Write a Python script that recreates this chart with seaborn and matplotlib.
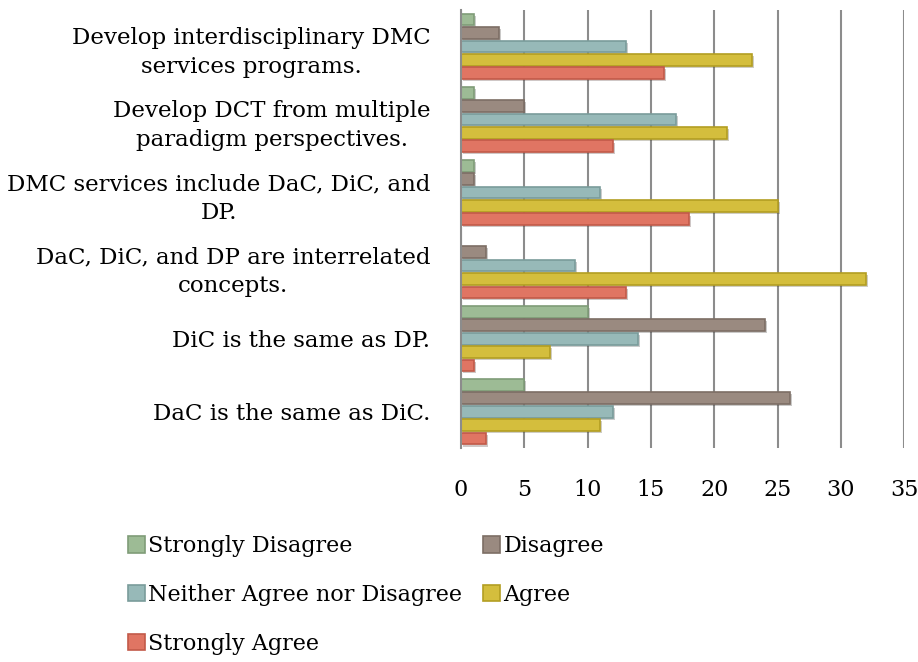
import numpy as np
import pandas as pd
import matplotlib
matplotlib.use("Agg")
import matplotlib.pyplot as plt
import matplotlib.patheffects as pe
import seaborn as sns

# statements, top to bottom
statements = [
    "Develop interdisciplinary DMC\nservices programs.",
    "Develop DCT from multiple\nparadigm perspectives.",
    "DMC services include DaC, DiC, and\nDP.",
    "DaC, DiC, and DP are interrelated\nconcepts.",
    "DiC is the same as DP.",
    "DaC is the same as DiC.",
]
responses = ["Strongly Disagree", "Disagree", "Neither Agree nor Disagree",
             "Agree", "Strongly Agree"]

strongly_disagree = [1, 1, 1, 0, 10, 5]
disagree = [3, 5, 1, 2, 24, 26]
neither = [13, 17, 11, 9, 14, 12]
agree = [23, 21, 25, 32, 7, 11]
strongly_agree = [16, 12, 18, 13, 1, 2]

colors = ["#9dbb95", "#9a8a80", "#97b9b8", "#d4be3d", "#e07563"]
edges = ["#7f9c78", "#7d6e65", "#7a9c9b", "#b39e22", "#c25a49"]

series = [strongly_disagree, disagree, neither, agree, strongly_agree]
rows = []
for resp, vals in zip(responses, series):
    for st, v in zip(statements, vals):
        rows.append({"Statement": st, "Response": resp, "Count": v})
df = pd.DataFrame(rows)

sns.set_style("white")
plt.rcParams['font.family'] = ['DejaVu Serif']
plt.rcParams['text.color'] = 'black'

fig = plt.figure(figsize=(9.18, 6.62), dpi=100)
ax = fig.add_axes([0.502, 0.323, 0.483, 0.662])

sns.barplot(data=df, y="Statement", x="Count", hue="Response",
            hue_order=responses, order=statements, palette=colors,
            saturation=1, width=0.92, gap=0.12, orient="h", ax=ax,
            linewidth=1.2, edgecolor="none", legend=True)

shadow = [pe.SimplePatchShadow(offset=(1.5, -1.5), alpha=0.25), pe.Normal()]
for i, cont in enumerate(ax.containers):
    for bar in cont:
        bar.set_edgecolor(edges[i])
        bar.set_path_effects(shadow)

ax.set_xlim(0, 35)
ax.set_xticks(range(0, 36, 5))
ax.xaxis.grid(True, color="#8c8c8c", linewidth=1.5)
ax.set_axisbelow(True)
for s in ["top", "right", "bottom"]:
    ax.spines[s].set_visible(False)
ax.spines["left"].set_color("#8c8c8c")
ax.spines["left"].set_linewidth(1.5)
ax.tick_params(axis="x", length=0, pad=22, labelsize=16, labelcolor="black")
ax.tick_params(axis="y", length=0, pad=22, labelsize=16.5, labelcolor="black")
for lab in ax.get_yticklabels():
    lab.set_multialignment("center")
    lab.set_linespacing(1.4)
ax.set_xlabel("")
ax.set_ylabel("")

handles, labels = ax.get_legend_handles_labels()
ax.legend_.remove()
# matplotlib fills legend columns first, so reorder to read row by row
order = [0, 2, 4, 1, 3]
handles = [handles[k] for k in order]
labels = [labels[k] for k in order]
for h, k in zip(handles, order):
    h.set_edgecolor(edges[k])
fig.legend(handles, labels, loc="upper left", bbox_to_anchor=(0.13, 0.205),
           ncol=2, frameon=False, fontsize=16, handlelength=0.75,
           handleheight=0.75, handletextpad=0.15, columnspacing=0.95,
           labelspacing=1.2, borderaxespad=0)

fig.savefig("out.png", dpi=100)
